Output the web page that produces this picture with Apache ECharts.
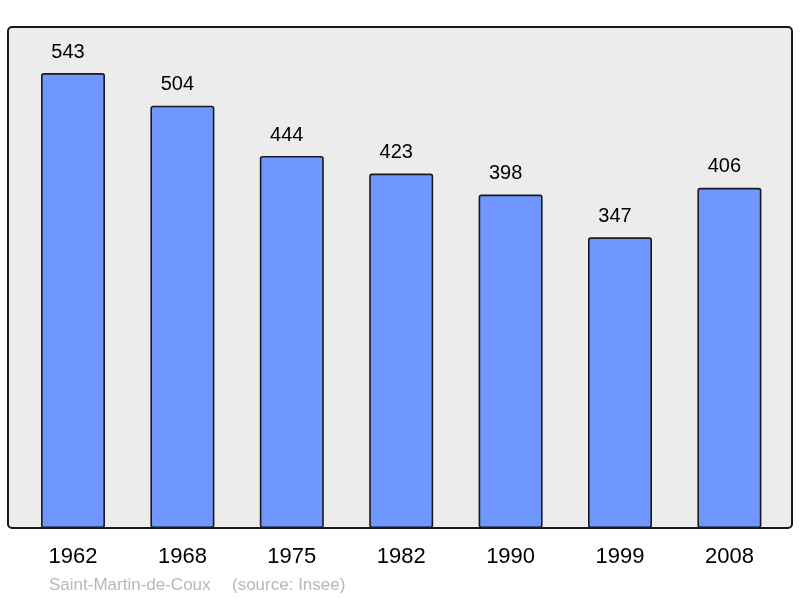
<!DOCTYPE html>
<html>
<head>
<meta charset="utf-8">
<script src="https://cdn.jsdelivr.net/npm/echarts@6/dist/echarts.min.js"></script>
<style>
html,body{margin:0;padding:0;background:#fff;}
#c{width:800px;height:598px;}
</style>
</head>
<body>
<div id="c"></div>
<script>
const years = ['1962','1968','1975','1982','1990','1999','2008'];
const population = [543, 504, 444, 423, 398, 347, 406];
const commune = 'Saint-Martin-de-Coux';
const source = '(source: Insee)';

const chart = echarts.init(document.getElementById('c'), null, {renderer:'canvas'});
chart.setOption({
  animation: false,
  backgroundColor: '#ffffff',
  textStyle: {fontFamily: 'Liberation Sans, Arial, sans-serif'},
  graphic: [
    {type:'rect', z:-10, silent:true,
     shape:{x:8, y:27, width:784, height:501, r:4},
     style:{fill:'#ececec', stroke:'#1a1a1a', lineWidth:2}},
    {type:'text', left:49, top:577,
     style:{text:commune, fill:'#b8b8b8', font:'17px "Liberation Sans", Arial, sans-serif'}},
    {type:'text', left:232, top:577,
     style:{text:source, fill:'#b8b8b8', font:'17px "Liberation Sans", Arial, sans-serif'}}
  ],
  grid: {left:18.3, top:27, width:765.8, height:501, containLabel:false},
  xAxis: {
    type:'category', data: years,
    axisLine:{show:false}, axisTick:{show:false},
    axisLabel:{color:'#000', fontSize:22, margin:18, fontFamily:'Liberation Sans, Arial, sans-serif'}
  },
  yAxis: {
    type:'value', min:0, max:598,
    show:false, splitLine:{show:false}
  },
  series: [{
    type:'bar', data: population, barWidth:64,
    itemStyle:{color:'#7096ff', borderColor:'#1a1a1a', borderWidth:1.6, borderRadius:2},
    label:{show:true, position:'top', distance:11, offset:[-5,0], color:'#000', fontSize:20,
      fontFamily:'Liberation Sans, Arial, sans-serif'}
  }]
});
</script>
</body>
</html>
